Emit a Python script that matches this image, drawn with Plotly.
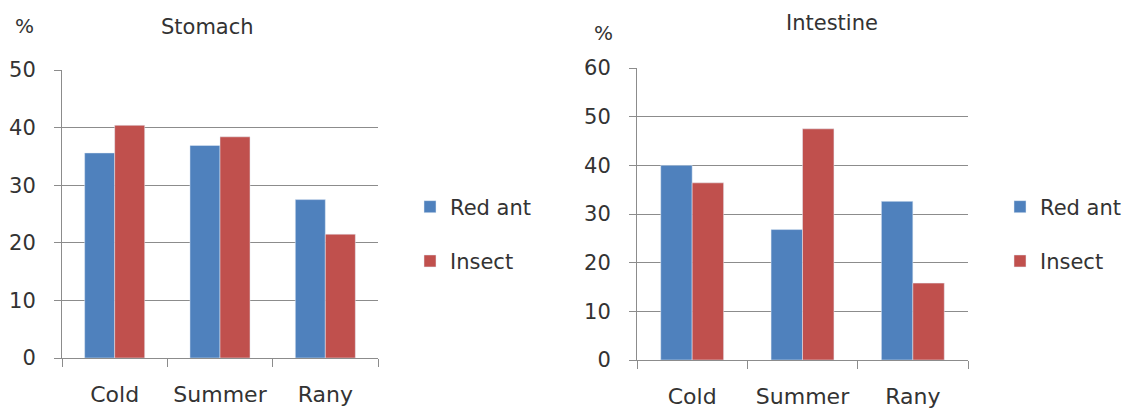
import plotly.graph_objects as go

seasons = ["Cold", "Summer", "Rany"]
stomach_red_ant = [35.6, 36.9, 27.5]
stomach_insect = [40.4, 38.4, 21.5]
intestine_red_ant = [40.0, 26.8, 32.6]
intestine_insect = [36.4, 47.5, 15.8]

BLUE = "#4F81BD"
RED = "#C0504D"
GRID = "#8C8C8C"
TEXT = "#333333"
FONT = "DejaVu Sans"

fig = go.Figure()

fig.add_trace(go.Bar(x=seasons, y=stomach_red_ant, name="Red ant", marker_color=BLUE,
                     xaxis="x", yaxis="y", legend="legend", legendgroup="a1"))
fig.add_trace(go.Bar(x=seasons, y=stomach_insect, name="Insect", marker_color=RED,
                     xaxis="x", yaxis="y", legend="legend", legendgroup="b1"))
fig.add_trace(go.Bar(x=seasons, y=intestine_red_ant, name="Red ant", marker_color=BLUE,
                     xaxis="x2", yaxis="y2", legend="legend2", legendgroup="a2"))
fig.add_trace(go.Bar(x=seasons, y=intestine_insect, name="Insect", marker_color=RED,
                     xaxis="x2", yaxis="y2", legend="legend2", legendgroup="b2"))

W, H = 1129, 409


def px_x(v):
    return v / W


def px_y(v):
    return 1 - v / H


xaxis_common = dict(
    type="category", showline=True, linecolor=GRID, linewidth=1,
    ticks="outside", tickson="boundaries", ticklen=8, tickcolor=GRID,
    showgrid=False, tickfont=dict(size=22, color=TEXT, family=FONT),
    ticklabelstandoff=17, automargin=False, fixedrange=True,
)
yaxis_common = dict(
    showline=True, linecolor=GRID, linewidth=1, ticks="outside", ticklen=7,
    tickcolor=GRID, showgrid=True, gridcolor=GRID, gridwidth=1, dtick=10,
    zeroline=False, tickfont=dict(size=21, color=TEXT, family=FONT),
    ticklabelstandoff=14, automargin=False,
)

legend_common = dict(
    font=dict(size=21, color=TEXT, family=FONT), bgcolor="rgba(0,0,0,0)",
    tracegroupgap=24, traceorder="grouped", itemwidth=30,
    xanchor="left", yanchor="middle",
)


def label(text, x, y, size):
    return dict(text=text, x=px_x(x), y=px_y(y), xref="paper", yref="paper",
                xanchor="center", yanchor="middle", showarrow=False,
                font=dict(size=size, color=TEXT, family=FONT))


fig.update_layout(
    width=W, height=H,
    margin=dict(l=0, r=0, t=0, b=0, autoexpand=False),
    paper_bgcolor="white", plot_bgcolor="white",
    barmode="group", bargap=0.43, bargroupgap=0,
    font=dict(family=FONT, color=TEXT),
    xaxis=dict(domain=[px_x(62), px_x(378)], anchor="y", **xaxis_common),
    yaxis=dict(domain=[px_y(358), px_y(70)], anchor="x", range=[0, 50], **yaxis_common),
    xaxis2=dict(domain=[px_x(637), px_x(968)], anchor="y2", **xaxis_common),
    yaxis2=dict(domain=[px_y(360), px_y(68)], anchor="x2", range=[0, 60], **yaxis_common),
    legend=dict(x=px_x(410), y=px_y(234), **legend_common),
    legend2=dict(x=px_x(1000), y=px_y(234), **legend_common),
    showlegend=True,
    annotations=[
        label("Stomach", 207, 27, 21),
        label("%", 24, 26, 20),
        label("Intestine", 832, 23, 21),
        label("%", 603, 33, 20),
    ],
)

fig.write_html("out.html")
